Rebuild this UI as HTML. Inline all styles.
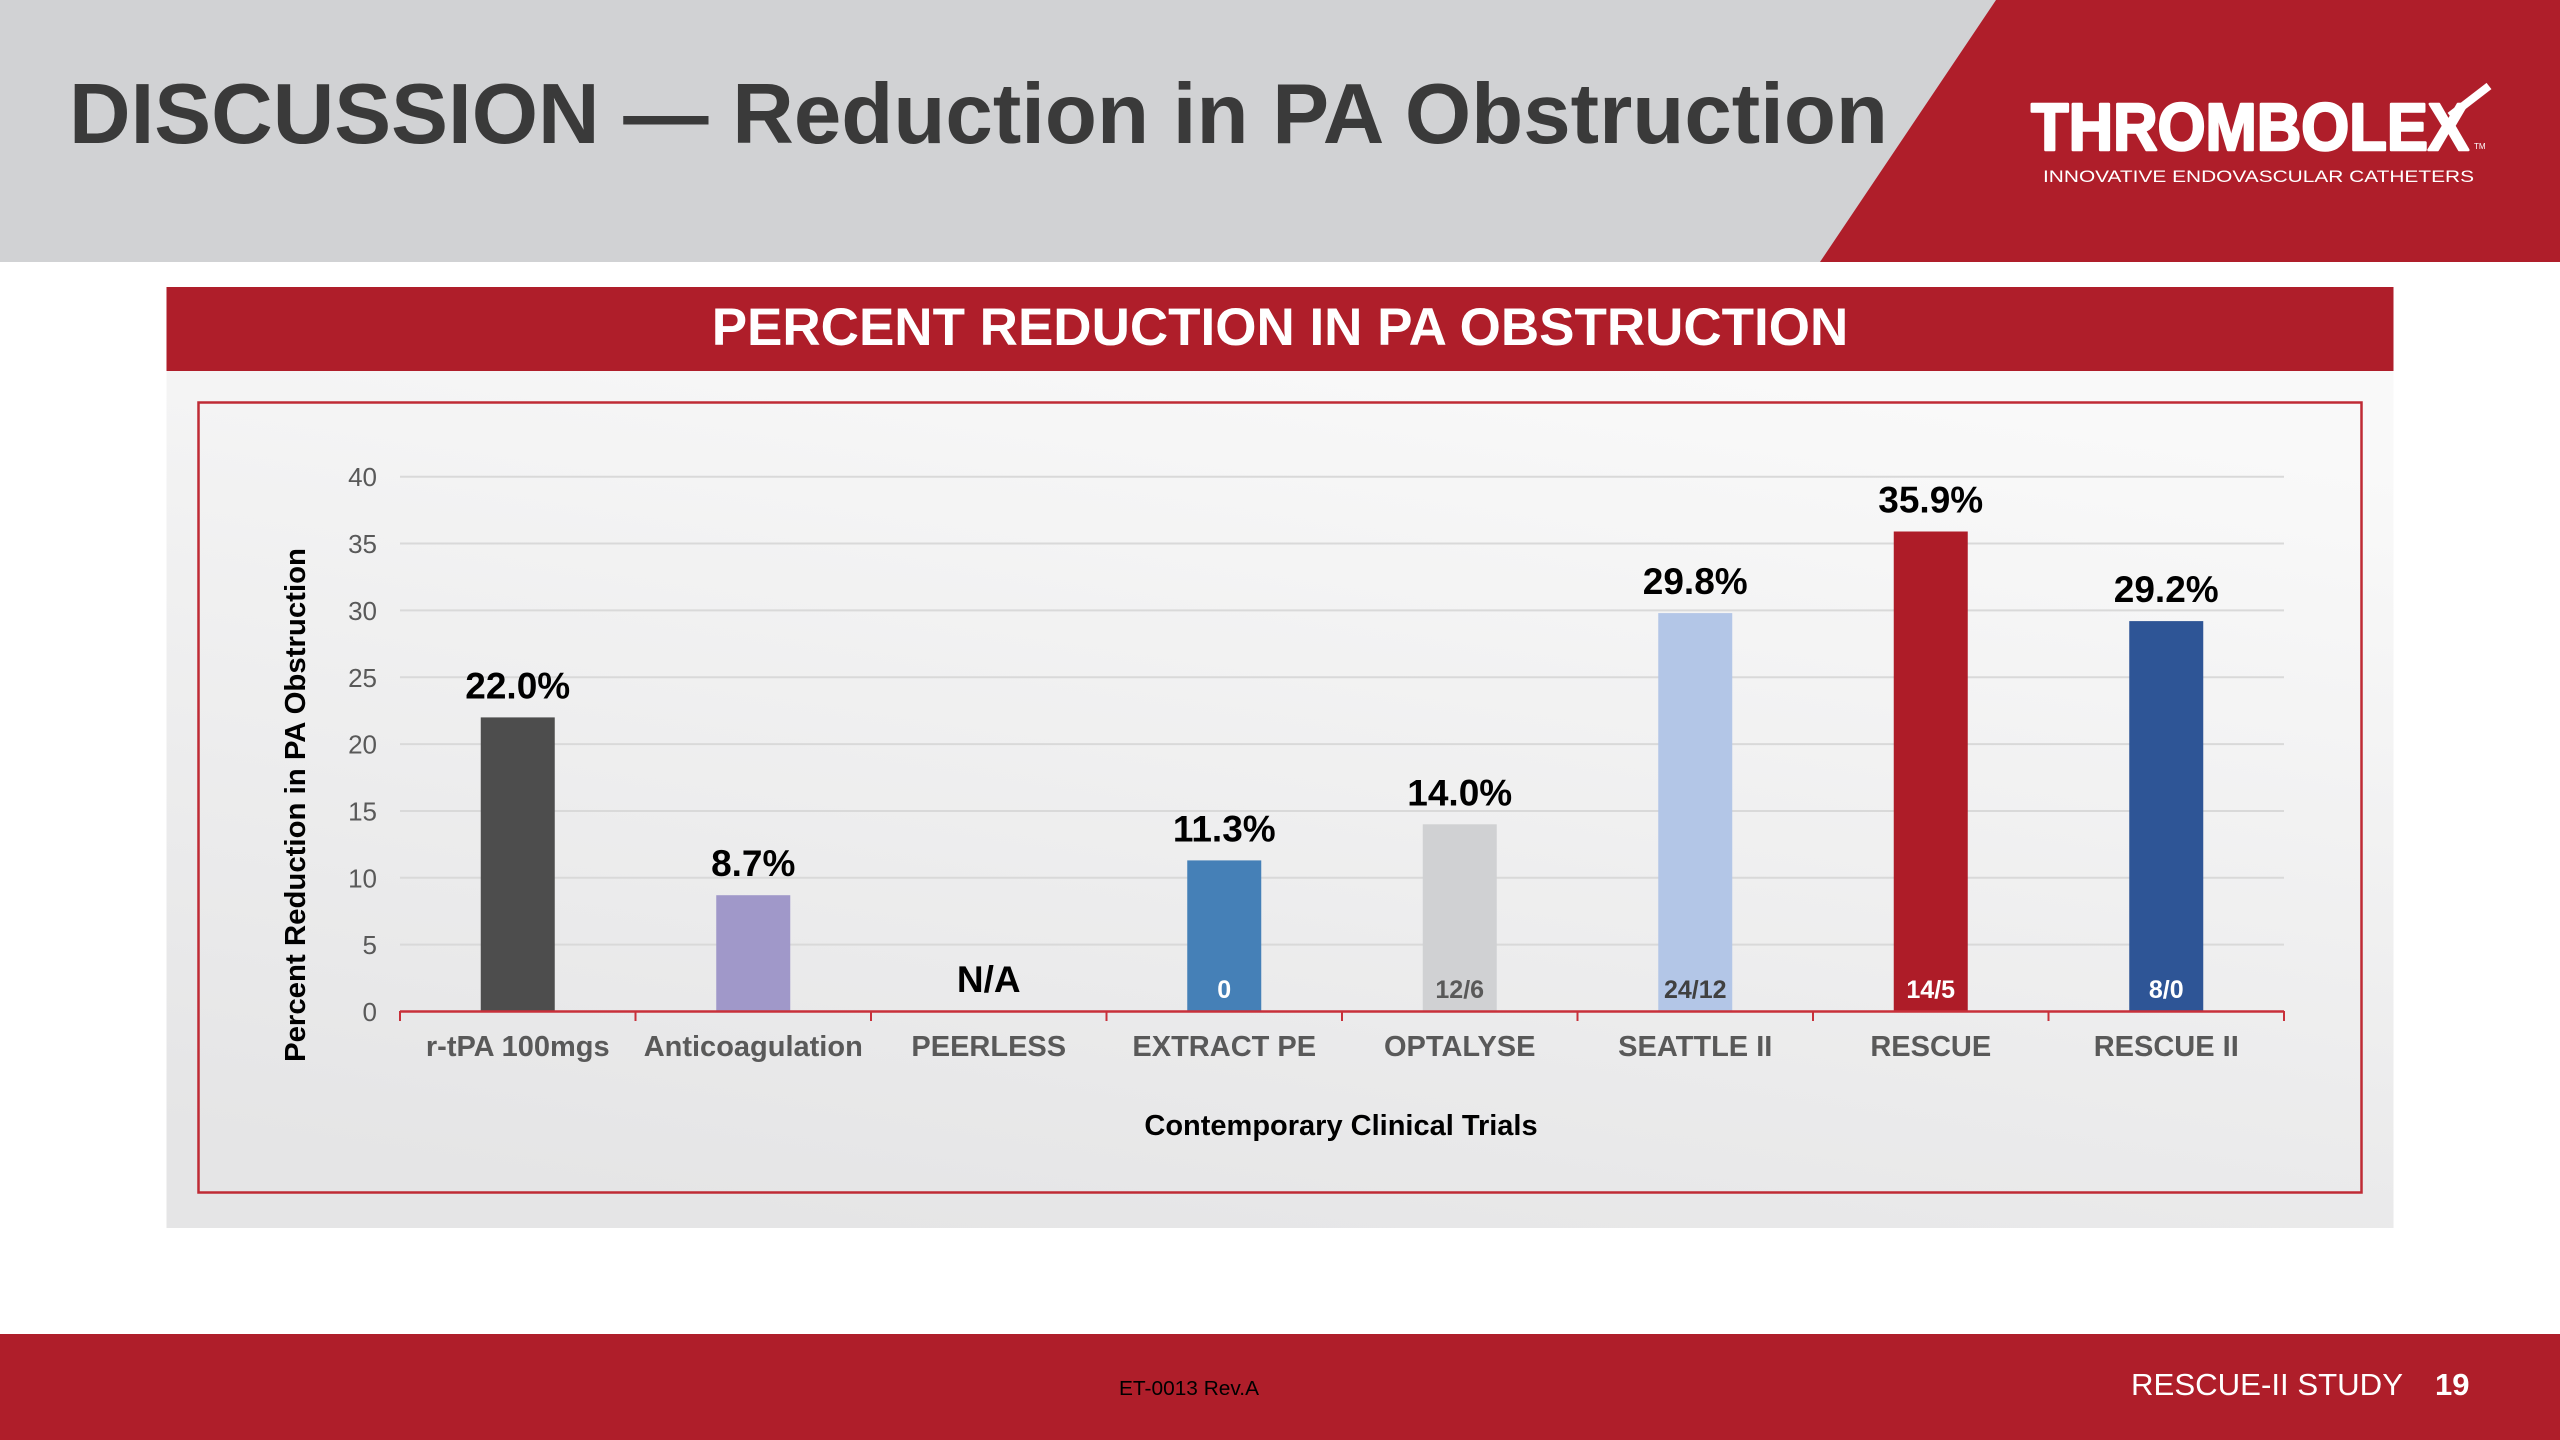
<!DOCTYPE html>
<html>
<head>
<meta charset="utf-8">
<style>
  html,body{margin:0;padding:0;background:#fff;}
  svg{display:block;}
  text{font-family:"Liberation Sans", Arial, sans-serif;}
</style>
</head>
<body>
<svg width="2560" height="1440" viewBox="0 0 2560 1440" xmlns="http://www.w3.org/2000/svg">
  <defs>
    <linearGradient id="pg" x1="0.7" y1="0" x2="0.3" y2="1">
      <stop offset="0" stop-color="#f9f9f9"/>
      <stop offset="1" stop-color="#e5e5e6"/>
    </linearGradient>
  </defs>
  <rect x="0" y="0" width="2560" height="1440" fill="#ffffff"/>
  <!-- Header -->
  <rect x="0" y="0" width="2560" height="262" fill="#d1d2d4"/>
  <polygon points="1996,0 2560,0 2560,262 1820,262" fill="#af1e2a"/>
  <text x="69" y="143" font-size="85" font-weight="bold" fill="#3a3a3a" textLength="1819" lengthAdjust="spacingAndGlyphs">DISCUSSION — Reduction in PA Obstruction</text>

  <!-- Logo -->
  <text x="2031" y="150" font-size="67" font-weight="bold" fill="#ffffff" stroke="#ffffff" stroke-width="2.5" stroke-linejoin="round" textLength="438" lengthAdjust="spacingAndGlyphs">THROMBOLEX</text>
  <line x1="2450" y1="116" x2="2489" y2="86" stroke="#ffffff" stroke-width="8"/>
  <text x="2474" y="149" font-size="8" fill="#ffffff">TM</text>
  <text x="2043" y="182" font-size="17" fill="#ffffff" textLength="431" lengthAdjust="spacingAndGlyphs">INNOVATIVE ENDOVASCULAR CATHETERS</text>

  <!-- Chart panel -->
  <rect x="166.5" y="371" width="2227" height="857" fill="url(#pg)"/>
  <rect x="166.5" y="287" width="2227" height="84" fill="#af1e2a"/>
  <text x="1280" y="345" font-size="53" font-weight="bold" fill="#ffffff" text-anchor="middle">PERCENT REDUCTION IN PA OBSTRUCTION</text>
  <rect x="198.5" y="402.5" width="2163" height="790" fill="none" stroke="#bf2b35" stroke-width="2.5"/>

  <!-- Gridlines -->
  <g stroke="#d9d9d9" stroke-width="2">
    <line x1="400" y1="944.65" x2="2284" y2="944.65"/>
    <line x1="400" y1="877.8" x2="2284" y2="877.8"/>
    <line x1="400" y1="810.95" x2="2284" y2="810.95"/>
    <line x1="400" y1="744.1" x2="2284" y2="744.1"/>
    <line x1="400" y1="677.25" x2="2284" y2="677.25"/>
    <line x1="400" y1="610.4" x2="2284" y2="610.4"/>
    <line x1="400" y1="543.55" x2="2284" y2="543.55"/>
    <line x1="400" y1="476.7" x2="2284" y2="476.7"/>
  </g>

  <!-- Y tick labels -->
  <g font-size="26" fill="#595959" text-anchor="end">
    <text x="377" y="1021">0</text>
    <text x="377" y="954.2">5</text>
    <text x="377" y="887.3">10</text>
    <text x="377" y="820.5">15</text>
    <text x="377" y="753.6">20</text>
    <text x="377" y="686.8">25</text>
    <text x="377" y="619.9">30</text>
    <text x="377" y="553.1">35</text>
    <text x="377" y="486.2">40</text>
  </g>

  <!-- Bars -->
  <rect x="480.75" y="717.4" width="74" height="294.1" fill="#4d4d4d"/>
  <rect x="716.25" y="895.2" width="74" height="116.3" fill="#a098c9"/>
  <rect x="1187.25" y="860.4" width="74" height="151.1" fill="#4580b7"/>
  <rect x="1422.75" y="824.3" width="74" height="187.2" fill="#d0d1d3"/>
  <rect x="1658.25" y="613.1" width="74" height="398.4" fill="#b3c6e7"/>
  <rect x="1893.75" y="531.5" width="74" height="480" fill="#ae1c28"/>
  <rect x="2129.25" y="621.1" width="74" height="390.4" fill="#2e5596"/>

  <!-- Axis -->
  <line x1="400" y1="1011.5" x2="2284" y2="1011.5" stroke="#c8303a" stroke-width="2.5"/>
  <g stroke="#c8303a" stroke-width="2">
    <line x1="400" y1="1011" x2="400" y2="1021"/>
    <line x1="635.5" y1="1011" x2="635.5" y2="1021"/>
    <line x1="871" y1="1011" x2="871" y2="1021"/>
    <line x1="1106.5" y1="1011" x2="1106.5" y2="1021"/>
    <line x1="1342" y1="1011" x2="1342" y2="1021"/>
    <line x1="1577.5" y1="1011" x2="1577.5" y2="1021"/>
    <line x1="1813" y1="1011" x2="1813" y2="1021"/>
    <line x1="2048.5" y1="1011" x2="2048.5" y2="1021"/>
    <line x1="2284" y1="1011" x2="2284" y2="1021"/>
  </g>

  <!-- Value labels -->
  <g font-size="37" font-weight="bold" fill="#000000" text-anchor="middle">
    <text x="517.75" y="698.5">22.0%</text>
    <text x="753.25" y="876.2">8.7%</text>
    <text x="988.75" y="992">N/A</text>
    <text x="1224.25" y="841.4">11.3%</text>
    <text x="1459.75" y="805.3">14.0%</text>
    <text x="1695.25" y="594.1">29.8%</text>
    <text x="1930.75" y="512.5">35.9%</text>
    <text x="2166.25" y="602.1">29.2%</text>
  </g>

  <!-- Inner bar labels -->
  <g font-size="25" font-weight="bold" text-anchor="middle">
    <text x="1224.25" y="998" fill="#ffffff">0</text>
    <text x="1459.75" y="998" fill="#595959">12/6</text>
    <text x="1695.25" y="998" fill="#404040">24/12</text>
    <text x="1930.75" y="998" fill="#ffffff">14/5</text>
    <text x="2166.25" y="998" fill="#ffffff">8/0</text>
  </g>

  <!-- Category labels -->
  <g font-size="29" font-weight="bold" fill="#595959" text-anchor="middle">
    <text x="517.75" y="1056">r-tPA 100mgs</text>
    <text x="753.25" y="1056">Anticoagulation</text>
    <text x="988.75" y="1056">PEERLESS</text>
    <text x="1224.25" y="1056">EXTRACT PE</text>
    <text x="1459.75" y="1056">OPTALYSE</text>
    <text x="1695.25" y="1056">SEATTLE II</text>
    <text x="1930.75" y="1056">RESCUE</text>
    <text x="2166.25" y="1056">RESCUE II</text>
  </g>

  <!-- Axis titles -->
  <text x="1341" y="1135" font-size="29" font-weight="bold" fill="#000000" text-anchor="middle">Contemporary Clinical Trials</text>
  <text x="305" y="805" font-size="29" font-weight="bold" fill="#000000" text-anchor="middle" transform="rotate(-90 305 805)" textLength="514" lengthAdjust="spacingAndGlyphs">Percent Reduction in PA Obstruction</text>

  <!-- Footer -->
  <rect x="0" y="1334" width="2560" height="106" fill="#af1e2a"/>
  <text x="1119" y="1395" font-size="20" fill="#000000" textLength="140" lengthAdjust="spacingAndGlyphs">ET-0013 Rev.A</text>
  <text x="2131" y="1395" font-size="31" fill="#ffffff" textLength="272" lengthAdjust="spacingAndGlyphs">RESCUE-II STUDY</text>
  <text x="2435" y="1395" font-size="31" font-weight="bold" fill="#ffffff">19</text>
</svg>
</body>
</html>
